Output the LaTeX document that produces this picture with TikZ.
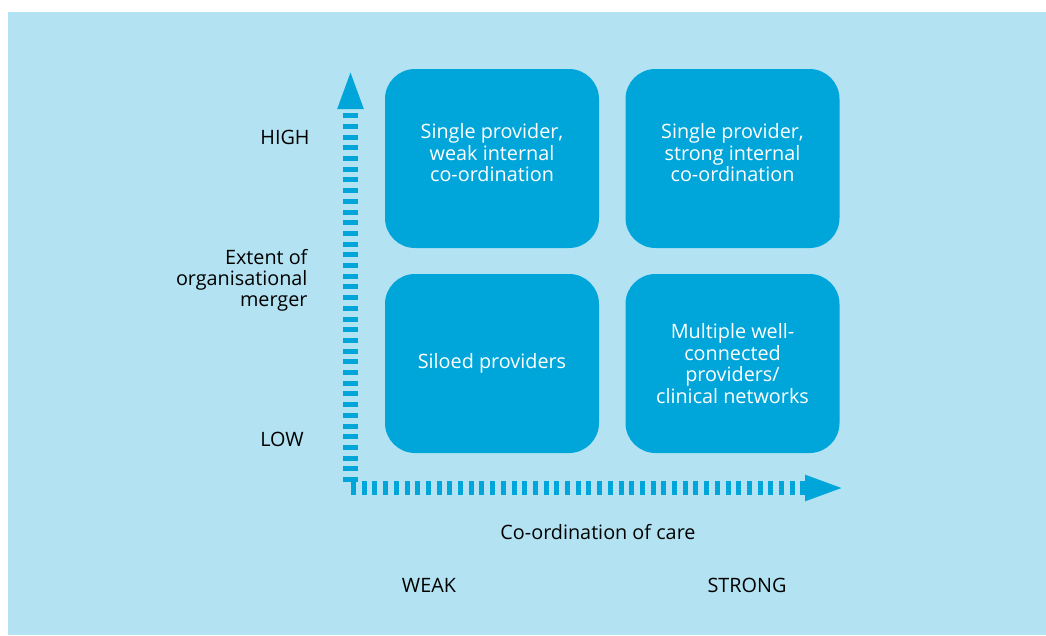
\documentclass[tikz,border=0pt]{standalone}
\usepackage{fontspec}
\setmainfont{Open Sans}
\usetikzlibrary{arrows.meta}
\definecolor{paleblue}{RGB}{179,227,242}
\definecolor{boxblue}{RGB}{0,166,218}
\begin{document}
\begin{tikzpicture}[x=1pt, y=-1pt]
    \tikzstyle{quad} = [rectangle, rounded corners=30pt, minimum width=214pt, minimum height=179pt, fill=boxblue, text=white, align=center, font=\fontsize{19.8}{21.5}\selectfont]
    \tikzstyle{lbl} = [font=\fontsize{19.8}{21}\selectfont, text=black]
    \tikzstyle{axis} = [boxblue, line width=15pt, dash pattern=on 5pt off 5.7pt, -{Triangle[length=40pt, width=23pt]}]
    \useasboundingbox (0,0) rectangle (1046,635);
    \fill[paleblue] (8,12) rectangle (1046,635);
    % the four quadrants
    \node (tl) [quad] at (492, 158.5) {Single provider,\\weak internal\\co-ordination\\[-10pt]};
    \node (tr) [quad] at (732.5, 158.5) {Single provider,\\strong internal\\co-ordination\\[-10pt]};
    \node (bl) [quad] at (492, 363.5) {Siloed providers};
    \node (br) [quad] at (732.5, 363.5) {Multiple well-\\connected\\providers/\\clinical networks};
    % axes
    \coordinate (ybase) at (350.5, 482);
    \coordinate (ytip) at (350.5, 69);
    \coordinate (xbase) at (351, 488);
    \coordinate (xtip) at (845, 488);
    \draw[axis] (ybase) -- (ytip);
    \draw[axis, line width=14pt] (xbase) -- (xtip);
    % axis labels
    \node (high) [lbl] at (285, 137) {HIGH};
    \node (low) [lbl] at (282, 439) {LOW};
    \node (merger) [lbl, align=right, anchor=east] at (311, 280) {Extent of\\organisational\\merger};
    \node (care) [lbl] at (598, 532) {Co-ordination of care};
    \node (weak) [lbl] at (429, 585) {WEAK};
    \node (strong) [lbl] at (747, 585) {STRONG};
  \end{tikzpicture}
\end{document}
